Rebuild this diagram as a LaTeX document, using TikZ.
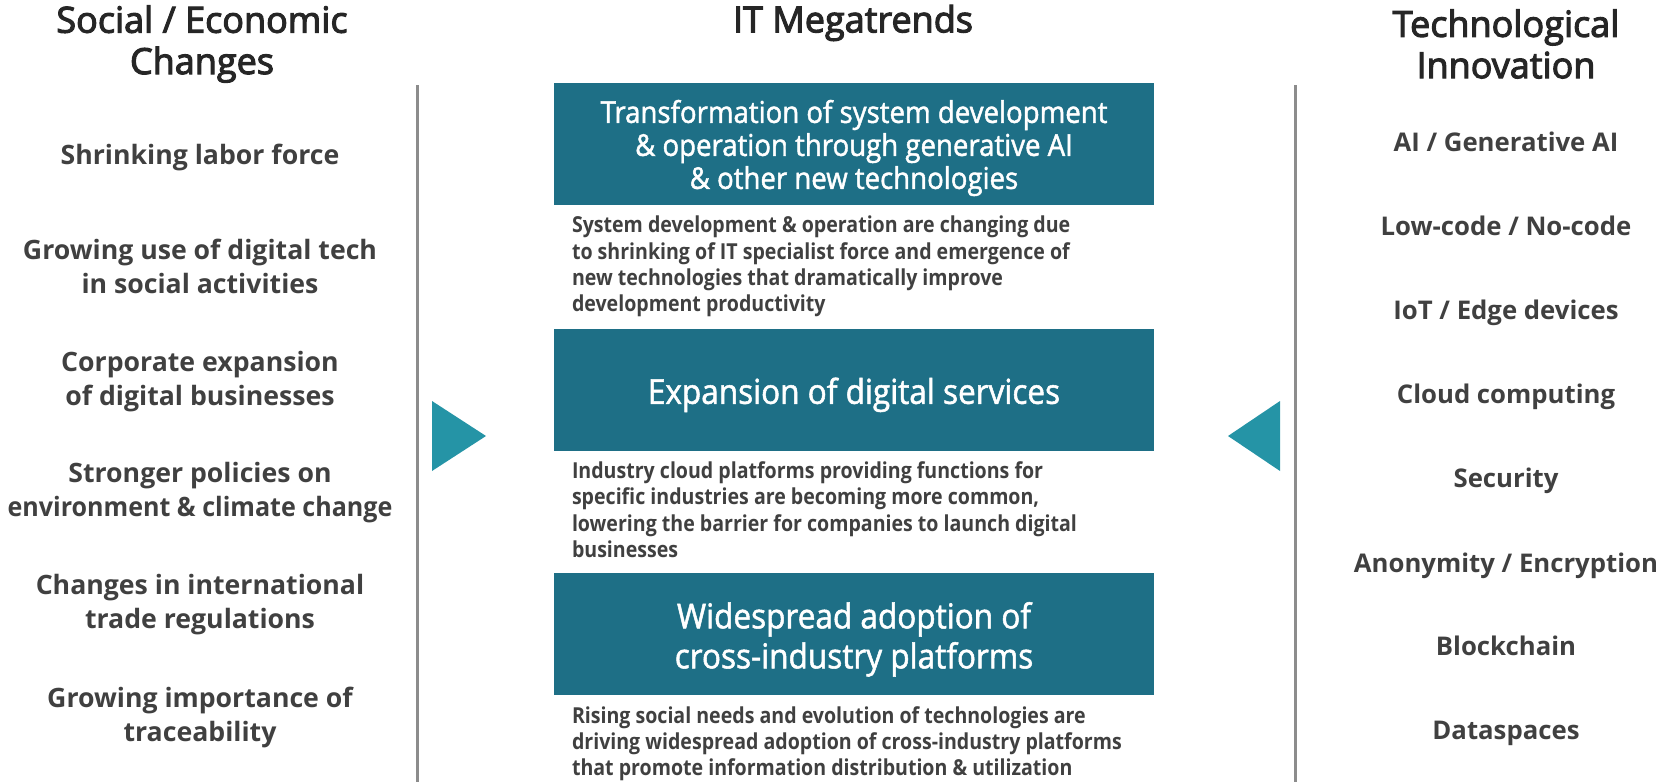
\documentclass[tikz,border=0pt]{standalone}
\usepackage{fontspec}
\setmainfont{Open Sans}
\newfontfamily\condfont[FakeStretch=0.92,FakeBold=1.5]{Open Sans}
\newfontfamily\notefont[FakeStretch=0.89]{Open Sans}
\newfontfamily\headfont[FakeBold=3]{Open Sans}
\newfontfamily\tightfont[FakeStretch=0.94]{Open Sans}
\usetikzlibrary{positioning}
\definecolor{boxteal}{HTML}{1E6F86}
\definecolor{arrowteal}{HTML}{2594A6}
\definecolor{itemgray}{HTML}{404040}
\definecolor{headgray}{HTML}{262626}
\definecolor{rulegray}{HTML}{8C8C8C}

\begin{document}
\begin{tikzpicture}[x=0.75pt,y=0.75pt]
\tikzstyle{col head}=[align=center,text=headgray,inner sep=0,font=\headfont\fontsize{27}{31}\selectfont]
\tikzstyle{change item}=[align=center,text=itemgray,inner sep=0,font=\bfseries\fontsize{20}{25.5}\selectfont]
\tikzstyle{tech item}=[align=center,text=itemgray,inner sep=0,text depth=0pt,font=\bfseries\fontsize{19.3}{25.5}\selectfont]
\tikzset{
  trend box/.style = {rectangle,fill=boxteal,minimum width=450pt,minimum height=91.5pt,inner sep=0},
  trend text/.style = {text=white,align=center,inner sep=0},
  small trend/.style = {font=\condfont\fontsize{22.5}{24.75}\selectfont},
  big trend/.style = {font=\condfont\fontsize{25.7}{30}\selectfont},
  trend note/.style = {align=left,text=itemgray,inner sep=0,font=\notefont\bfseries\fontsize{16.5}{19.7}\selectfont},
  side rule/.style = {draw=rulegray,line width=2.25pt},
  flow arrow/.style = {fill=arrowteal}
}
\useasboundingbox (0,0) rectangle (1671,-782);

    % column heads
    \node[col head] (hsoc) at (202,-44) {Social / Economic\\Changes};
    \node[col head] (hmeg) at (853,-23) {IT Megatrends};
    \node[col head] (htec) at (1506,-44) {Technological\\Innovation};

    \coordinate (ltop) at (417,-85);
    \coordinate (lbot) at (417,-782);
    \coordinate (rtop) at (1295,-85);
    \coordinate (rbot) at (1295,-782);
    \draw[side rule] (ltop) -- (lbot);
    \draw[side rule] (rtop) -- (rbot);

    %%%%%%%%%%%%%%%%%%%%%%%%%%%%%%%%%%
    \node[trend box] (t1) at (854,-144) {};
    \node[trend text,small trend] (l1) at ([yshift=-3pt]t1.center) {Transformation of system development\\\& operation through generative AI\\\& other new technologies};
    \node[trend note] (n1) [below right=8pt and 13.5pt of t1.south west] {System development \& operation are changing due\\to shrinking of IT specialist force and emergence of\\new technologies that dramatically improve\\development productivity};

    \node[trend box] (t2) at (854,-389.5) {};
    \node[trend text,big trend] (l2) at ([yshift=-4pt]t2.center) {Expansion of digital services};
    \node[trend note] (n2) [below right=8pt and 13.5pt of t2.south west] {Industry cloud platforms providing functions for\\specific industries are becoming more common,\\lowering the barrier for companies to launch digital\\businesses};

    \node[trend box] (t3) at (854,-634) {};
    \node[trend text,big trend] (l3) at ([yshift=-4pt]t3.center) {Widespread adoption of\\cross-industry platforms};
    \node[trend note] (n3) [below right=8pt and 13.5pt of t3.south west] {Rising social needs and evolution of technologies are\\driving widespread adoption of cross-industry platforms\\that promote information distribution \& utilization};

    %%%%%%%%%%%%%%%%%%%%%%%%%%%%%%%%%%
    \fill[flow arrow] (432,-401) -- (486,-436) -- (432,-471) -- cycle;
    \fill[flow arrow] (1280,-401) -- (1228,-436) -- (1280,-471) -- cycle;

    %%%%%%%%%%%%%%%%%%%%%%%%%%%%%%%%%%
    \node[change item] (c1) at (200,-157) {Shrinking labor force};
    \node[change item] (c2) at (200,-266) {Growing use of digital tech\\in social activities};
    \node[change item] (c3) at (200,-382) {Corporate expansion\\of digital businesses};
    \node[change item] (c4) at (200,-493) {Stronger policies on\\{\tightfont\bfseries environment \& climate change}};
    \node[change item] (c5) at (200,-605) {Changes in international\\trade regulations};
    \node[change item] (c6) at (200,-717.5) {Growing importance of\\traceability};

    \node[tech item] (e1) at (1506,-142) {AI / Generative AI};
    \node[tech item] (e2) at (1506,-226) {Low-code / No-code};
    \node[tech item] (e3) at (1506,-310) {IoT / Edge devices};
    \node[tech item] (e4) at (1506,-394) {Cloud computing};
    \node[tech item] (e5) at (1506,-478) {Security};
    \node[tech item] (e6) at (1506,-563) {Anonymity / Encryption};
    \node[tech item] (e7) at (1506,-646) {Blockchain};
    \node[tech item] (e8) at (1506,-730) {Dataspaces};
\end{tikzpicture}
\end{document}
